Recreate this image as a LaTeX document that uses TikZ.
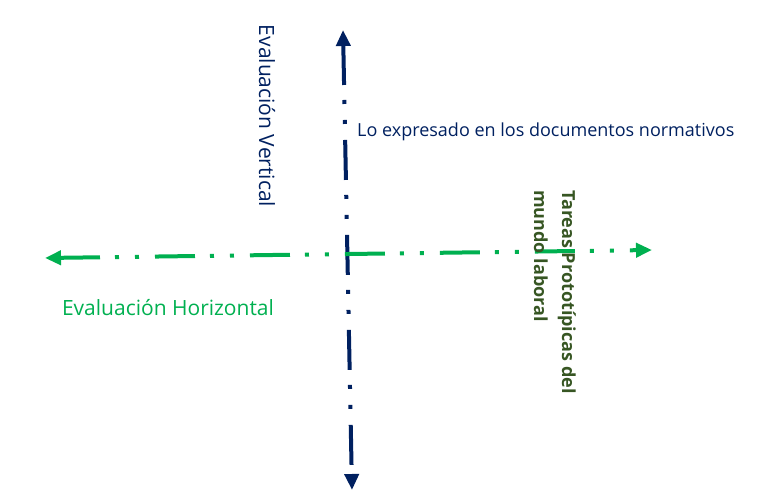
\documentclass[tikz,border=0pt]{standalone}
\usepackage{fontspec}
\setmainfont{Open Sans}
\usepackage{xcolor}
\usetikzlibrary{positioning, arrows.meta}
\definecolor{navy}{HTML}{002060}
\definecolor{vivid}{HTML}{00B050}
\definecolor{forest}{HTML}{375623}

\begin{document}
\begin{tikzpicture}[
            x=1pt, y=-1pt,
            axis/.style={line width=4pt,
                dash pattern=on 40pt off 15pt on 4pt off 16pt on 4pt off 16pt,
                {Triangle[width=14pt,length=16pt]}-{Triangle[width=14pt,length=16pt]}},
            caption/.style={inner sep=0pt, font=\fontsize{21}{25}\selectfont},
        ]
            \useasboundingbox (0,0) rectangle (765,502);
            \coordinate (top) at (343,30);
            \coordinate (bottom) at (352,490);
            \coordinate (left) at (45,258);
            \coordinate (right) at (652,250);
            \draw[axis, navy] (top) -- (bottom);
            \draw[axis, vivid] (left) -- (right);
            \node[caption, navy, rotate=-90] (vlabel) at (267,116) {Evaluación Vertical};
            \node[caption, navy, anchor=west, font=\fontsize{18}{22}\selectfont] (norms) at (357,132)
                {Lo expresado en los documentos normativos};
            \node[caption, vivid] (hlabel) at (168,308) {Evaluación Horizontal};
            \node[caption, forest, rotate=-90, anchor=north west, align=left,
                font=\bfseries\fontsize{18}{28}\selectfont] (tasks) at (576,190)
                {Tareas Prototípicas del\\mundo laboral};
        \end{tikzpicture}
\end{document}
